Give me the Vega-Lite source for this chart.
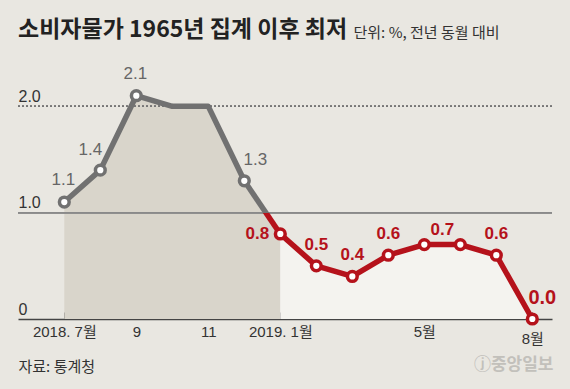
{
  "$schema": "https://vega.github.io/schema/vega-lite/v6.json",
  "width": 534,
  "height": 244,
  "autosize": "none",
  "padding": {"left": 18, "top": 75, "right": 18, "bottom": 70},
  "background": "#e9e7e1",
  "config": {"view": {"stroke": null}, "font": "Noto Sans CJK KR"},
  "title": {
    "text": "소비자물가 1965년 집계 이후 최저",
    "anchor": "start",
    "frame": "group",
    "baseline": "alphabetic",
    "offset": -35,
    "fontSize": 23,
    "fontWeight": "bold",
    "color": "#222222",
    "font": "Noto Sans CJK KR"
  },
  "data": {
    "values": [
      {"i": 0, "month": "2018-07", "v": 1.1},
      {"i": 1, "month": "2018-08", "v": 1.4},
      {"i": 2, "month": "2018-09", "v": 2.1},
      {"i": 3, "month": "2018-10", "v": 2.0},
      {"i": 4, "month": "2018-11", "v": 2.0},
      {"i": 5, "month": "2018-12", "v": 1.3},
      {"i": 6, "month": "2019-01", "v": 0.8},
      {"i": 7, "month": "2019-02", "v": 0.5},
      {"i": 8, "month": "2019-03", "v": 0.4},
      {"i": 9, "month": "2019-04", "v": 0.6},
      {"i": 10, "month": "2019-05", "v": 0.7},
      {"i": 11, "month": "2019-06", "v": 0.7},
      {"i": 12, "month": "2019-07", "v": 0.6},
      {"i": 13, "month": "2019-08", "v": 0.0}
    ]
  },
  "resolve": {"axis": {"y": "independent"}},
  "layer": [
    {
      "encoding": {
        "x": {
          "field": "i", "type": "quantitative",
          "scale": {"domain": [-1.286, 13.547], "nice": false, "zero": false},
          "axis": {
            "values": [0,1,2,3,4,5,6,7,8,9,10,11,12,13],
            "labelExpr": "datum.value == 0 ? '2018. 7월' : datum.value == 2 ? '9' : datum.value == 4 ? '11' : datum.value == 6 ? '2019. 1월' : datum.value == 10 ? '5월' : datum.value == 13 ? ['', '8월'] : ''",
            "labelOverlap": false,
            "labelBound": false,
            "labelFlush": false,
            "grid": false,
            "domain": true,
            "domainColor": "#444444",
            "domainWidth": 1.5,
            "ticks": true,
            "tickSize": -7,
            "tickColor": "#555555",
            "tickWidth": 1,
            "labelPadding": 12,
            "labelBaseline": "top",
            "labelLineHeight": 7,
            "labelFontSize": 15,
            "labelColor": "#333333",
            "labelFont": "Liberation Sans, Noto Sans CJK KR",
            "title": "자료: 통계청",
            "titleAnchor": "start",
            "titleAlign": "left",
            "titleX": 0,
            "titleY": 52,
            "titleBaseline": "alphabetic",
            "titleFontSize": 15,
            "titleFontWeight": "normal",
            "titleColor": "#333333",
            "titleFont": "Noto Sans CJK KR"
          }
        },
        "y": {
          "field": "v", "type": "quantitative",
          "scale": {"domain": [0, 2.295], "nice": false},
          "axis": {
            "orient": "left",
            "values": [0, 1, 2],
            "labelExpr": "datum.value == 0 ? '0' : format(datum.value, '.1f')",
            "ticks": false,
            "tickSize": 0,
            "domain": false,
            "grid": false,
            "labelAlign": "left",
            "labelBaseline": "alphabetic",
            "labelPadding": 0,
            "labelOffset": -5,
            "labelFontSize": 16,
            "labelColor": "#333333",
            "labelFont": "Liberation Sans",
            "title": "단위: %, 전년 동월 대비",
            "titleAngle": 0,
            "titleAlign": "left",
            "titleBaseline": "alphabetic",
            "titleX": 335,
            "titleY": -38,
            "titleFontSize": 15,
            "titleFontWeight": "normal",
            "titleColor": "#333333",
            "titleFont": "Noto Sans CJK KR"
          }
        }
      },
      "layer": [
        {"transform": [{"filter": "datum.i <= 6"}], "mark": {"type": "area", "color": "#d9d5cb"}},
        {"transform": [{"filter": "datum.i >= 6"}], "mark": {"type": "area", "color": "#f4f3ef"}}
      ]
    },
    {
      "layer": [
        {"mark": {"type": "rule", "color": "#8a8a8a", "strokeWidth": 1},
         "encoding": {"y": {"datum": 1, "type": "quantitative", "scale": {"domain": [0, 2.295], "nice": false},
           "axis": {"orient": "right", "labels": false, "ticks": false, "domain": false, "grid": false,
             "title": "ⓙ중앙일보", "titleAngle": 0, "titleAlign": "right", "titleBaseline": "alphabetic",
             "titleX": 1, "titleY": 294, "titleFontSize": 17, "titleFontWeight": "bold", "titleColor": "#c2c0bb", "titleFont": "Noto Sans CJK KR"}}}},
        {"mark": {"type": "rule", "color": "#777777", "strokeWidth": 1, "strokeDash": [2, 2]},
         "encoding": {"y": {"datum": 2, "type": "quantitative", "scale": {"domain": [0, 2.295], "nice": false}}}},
        {
          "encoding": {
            "x": {"field": "i", "type": "quantitative", "scale": {"domain": [-1.286, 13.547], "nice": false, "zero": false}},
            "y": {"field": "v", "type": "quantitative", "scale": {"domain": [0, 2.295], "nice": false}}
          },
          "layer": [
            {"transform": [{"filter": "datum.i <= 5"}], "mark": {"type": "line", "stroke": "#717171", "strokeWidth": 5.5, "strokeJoin": "round"}},
            {"transform": [{"filter": "datum.i >= 5 && datum.i <= 6"}], "mark": {"type": "line", "strokeWidth": 5.5, "strokeJoin": "round",
              "stroke": {"gradient": "linear", "x1": 0, "y1": 0, "x2": 0, "y2": 1,
                "stops": [{"offset": 0, "color": "#717171"}, {"offset": 0.6, "color": "#717171"}, {"offset": 0.6, "color": "#b5121b"}, {"offset": 1, "color": "#b5121b"}]}}},
            {"transform": [{"filter": "datum.i >= 6"}], "mark": {"type": "line", "stroke": "#b5121b", "strokeWidth": 5.5, "strokeJoin": "round"}},
            {"transform": [{"filter": {"field": "i", "oneOf": [0, 1, 2, 5]}}], "mark": {"type": "point", "shape": "circle", "filled": true, "fill": "#ffffff", "stroke": "#717171", "strokeWidth": 3.5, "size": 95, "opacity": 1}},
            {"transform": [{"filter": "datum.i >= 6"}], "mark": {"type": "point", "shape": "circle", "filled": true, "fill": "#ffffff", "stroke": "#b5121b", "strokeWidth": 3.5, "size": 95, "opacity": 1}},
            {"transform": [{"filter": {"field": "i", "oneOf": [0, 2]}}], "mark": {"type": "text", "font": "Liberation Sans", "fontSize": 17, "color": "#666666", "baseline": "middle", "dx": -1, "dy": -22}, "encoding": {"text": {"field": "v", "type": "quantitative", "format": ".1f"}}},
            {"transform": [{"filter": "datum.i == 1"}], "mark": {"type": "text", "font": "Liberation Sans", "fontSize": 17, "color": "#666666", "baseline": "middle", "dx": -10, "dy": -20}, "encoding": {"text": {"field": "v", "type": "quantitative", "format": ".1f"}}},
            {"transform": [{"filter": "datum.i == 5"}], "mark": {"type": "text", "font": "Liberation Sans", "fontSize": 17, "color": "#666666", "baseline": "middle", "dx": 11, "dy": -21}, "encoding": {"text": {"field": "v", "type": "quantitative", "format": ".1f"}}},
            {"transform": [{"filter": {"field": "i", "oneOf": [7, 8, 9, 12]}}], "mark": {"type": "text", "font": "Liberation Sans", "fontSize": 17, "fontWeight": "bold", "color": "#b5121b", "baseline": "middle", "dy": -21}, "encoding": {"text": {"field": "v", "type": "quantitative", "format": ".1f"}}},
            {"transform": [{"filter": "datum.i == 10"}], "mark": {"type": "text", "font": "Liberation Sans", "fontSize": 17, "fontWeight": "bold", "color": "#b5121b", "baseline": "middle", "dx": 18, "dy": -15}, "encoding": {"text": {"field": "v", "type": "quantitative", "format": ".1f"}}},
            {"transform": [{"filter": "datum.i == 6"}], "mark": {"type": "text", "font": "Liberation Sans", "fontSize": 17, "fontWeight": "bold", "color": "#b5121b", "baseline": "middle", "dx": -23, "dy": 0}, "encoding": {"text": {"field": "v", "type": "quantitative", "format": ".1f"}}},
            {"transform": [{"filter": "datum.i == 13"}], "mark": {"type": "text", "font": "Liberation Sans", "fontSize": 20, "fontWeight": "bold", "color": "#b5121b", "baseline": "middle", "dx": 10, "dy": -21}, "encoding": {"text": {"field": "v", "type": "quantitative", "format": ".1f"}}}
          ]
        }
      ]
    }
  ]
}
